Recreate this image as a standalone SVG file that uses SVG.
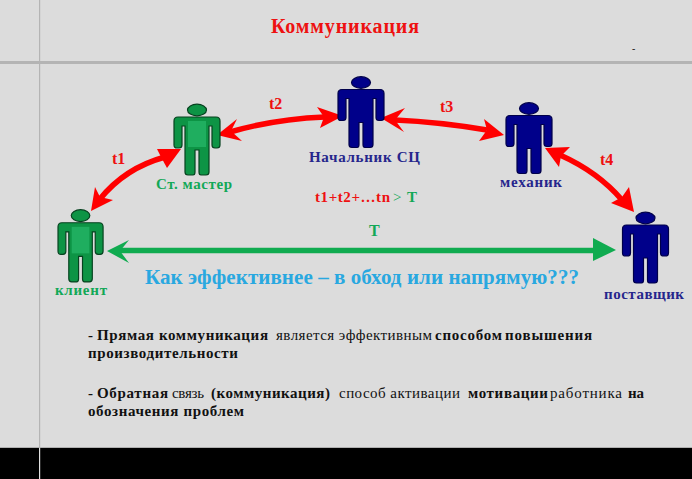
<svg xmlns="http://www.w3.org/2000/svg" xmlns:xlink="http://www.w3.org/1999/xlink" width="692" height="479" viewBox="0 0 692 479">
<style>
text{font-family:"Liberation Serif","Times New Roman",serif;font-weight:bold}
.r{font-weight:normal}
.red{fill:#ee1111}.grn{fill:#12a857}.nav{fill:#26268c}.blk{fill:#111}
.lab{font-size:15px}.t{font-size:16px}.b{font-size:15px}
.arc{fill:none;stroke:#ff0000;stroke-width:5.5}
.head{fill:#ff0000}
.ghead{fill:#10ab50}
.go{fill:#0d9445;stroke:#06421f;stroke-width:1.2}
.gi{fill:#1fae5f}
.no{fill:#00008a;stroke:#00004a;stroke-width:1.2}
</style>
<defs>
<path id="body-shape" d="M4 13H42Q46 13 46 17V41Q46 44 43 44H41Q38 44 38 41V22H35V68Q35 71 32 71H27Q25 71 25 68V46H21V68Q21 71 19 71H14Q11 71 11 68V22H8V41Q8 44 5 44H3Q0 44 0 41V17Q0 13 4 13Z"/>
<g id="person-g">
<ellipse class="go" cx="23" cy="6" rx="9.5" ry="5.8"/>
<use href="#body-shape" class="go"/>
<rect class="gi" x="14" y="17" width="18" height="26"/>
</g>
<g id="person-n">
<ellipse class="no" cx="23" cy="6" rx="9.5" ry="5.8"/>
<use href="#body-shape" class="no"/>
</g>
</defs>
<rect id="bg" width="692" height="479" fill="#dcdcdc"/>
<rect x="0" y="447" width="692" height="1.5" fill="#b0b0b0"/>
<rect x="0" y="448" width="692" height="31" fill="#000"/>
<rect x="0" y="61" width="692" height="3" fill="#b4b4b4"/>
<rect x="39" y="0" width="1.2" height="448" fill="#b4b4b4"/>
<rect x="39" y="448" width="1.2" height="31" fill="#e0e0e0"/>

<g id="connectors">
<path class="arc" d="M100 199Q125 168 165 157"/>
<polygon class="head" points="181,149 157,149 161,157 167,168"/>
<polygon class="head" points="91,211 95,187 100,197 113,200"/>
<path class="arc" d="M230 132Q275 119 325 117"/>
<polygon class="head" points="217,135 237,119 231,131 242,141"/>
<polygon class="head" points="343,116 317,107 324,117 320,128"/>
<path class="arc" d="M395 120Q440 122 487 130"/>
<polygon class="head" points="381,118 405,108 395,120 404,132"/>
<polygon class="head" points="504,135 484,119 487,130 479,141"/>
<path class="arc" d="M560 155Q598 172 622 200"/>
<polygon class="head" points="545,148 570,147 561,156 559,167"/>
<polygon class="head" points="634,212 629,187 622,197 611,203"/>
<path d="M120 250.5H595" fill="none" stroke="#10ab50" stroke-width="5.5"/>
<polygon class="ghead" points="107,251 129,240 120,251 129,263"/>
<polygon class="ghead" points="616,250 593,238 593,261"/>
</g>

<g id="node-client"><use href="#person-g" transform="translate(58,209.5) scale(0.98,1.02)"/><text class="lab grn" x="55" y="295" textLength="52">клиент</text></g>
<g id="node-master"><use href="#person-g" transform="translate(174,104)"/><text class="lab grn" x="156" y="189" textLength="76">Ст. мастер</text></g>
<g id="node-chief"><use href="#person-n" transform="translate(338,76.5)"/><text class="lab nav" x="309" y="162" textLength="111">Начальник СЦ</text></g>
<g id="node-mechanic"><use href="#person-n" transform="translate(506,102.5)"/><text class="lab nav" x="500" y="187" textLength="62">механик</text></g>
<g id="node-supplier"><use href="#person-n" transform="translate(622.5,212)"/><text class="lab nav" x="604" y="299" textLength="80">поставщик</text></g>

<g id="labels">
<text class="red" x="271" y="33" font-size="20" textLength="148">Коммуникация</text>
<text class="blk r" x="632" y="52" font-size="10">-</text>
<text class="t red" x="112" y="164">t1</text>
<text class="t red" x="269" y="109">t2</text>
<text class="t red" x="440" y="112">t3</text>
<text class="t red" x="600" y="165">t4</text>
<text class="lab red" x="315" y="202" textLength="75">t1+t2+…tn</text>
<text class="lab grn r" x="393" y="202">&gt;</text>
<text class="lab grn" x="407" y="202">T</text>
<text class="t grn" x="369" y="236">T</text>
<text x="145" y="284" font-size="21" fill="#29a8e0" textLength="434">Как эффективнее – в обход или напрямую???</text>
</g>

<g id="body">
<text class="b blk" x="88" y="340">-</text>
<text class="b blk" x="97" y="340" textLength="171">Прямая коммуникация</text>
<text class="b blk r" x="276" y="340" textLength="156">является эффективным</text>
<text class="b blk" x="435" y="340" textLength="67">способом</text>
<text class="b blk" x="505" y="340" textLength="87">повышения</text>
<text class="b blk" x="88" y="358" textLength="150">производительности</text>
<text class="b blk" x="88" y="398">-</text>
<text class="b blk" x="97" y="398" textLength="71">Обратная</text>
<text class="b blk r" x="172" y="398" textLength="32">связь</text>
<text class="b blk" x="211" y="398" textLength="119">(коммуникация)</text>
<text class="b blk r" x="339" y="398" textLength="121">способ активации</text>
<text class="b blk" x="468" y="398" textLength="80">мотивации</text>
<text class="b blk r" x="550" y="398" textLength="72">работника</text>
<text class="b blk" x="628" y="398" textLength="16">на</text>
<text class="b blk" x="88" y="416" textLength="156">обозначения проблем</text>
</g>
</svg>
